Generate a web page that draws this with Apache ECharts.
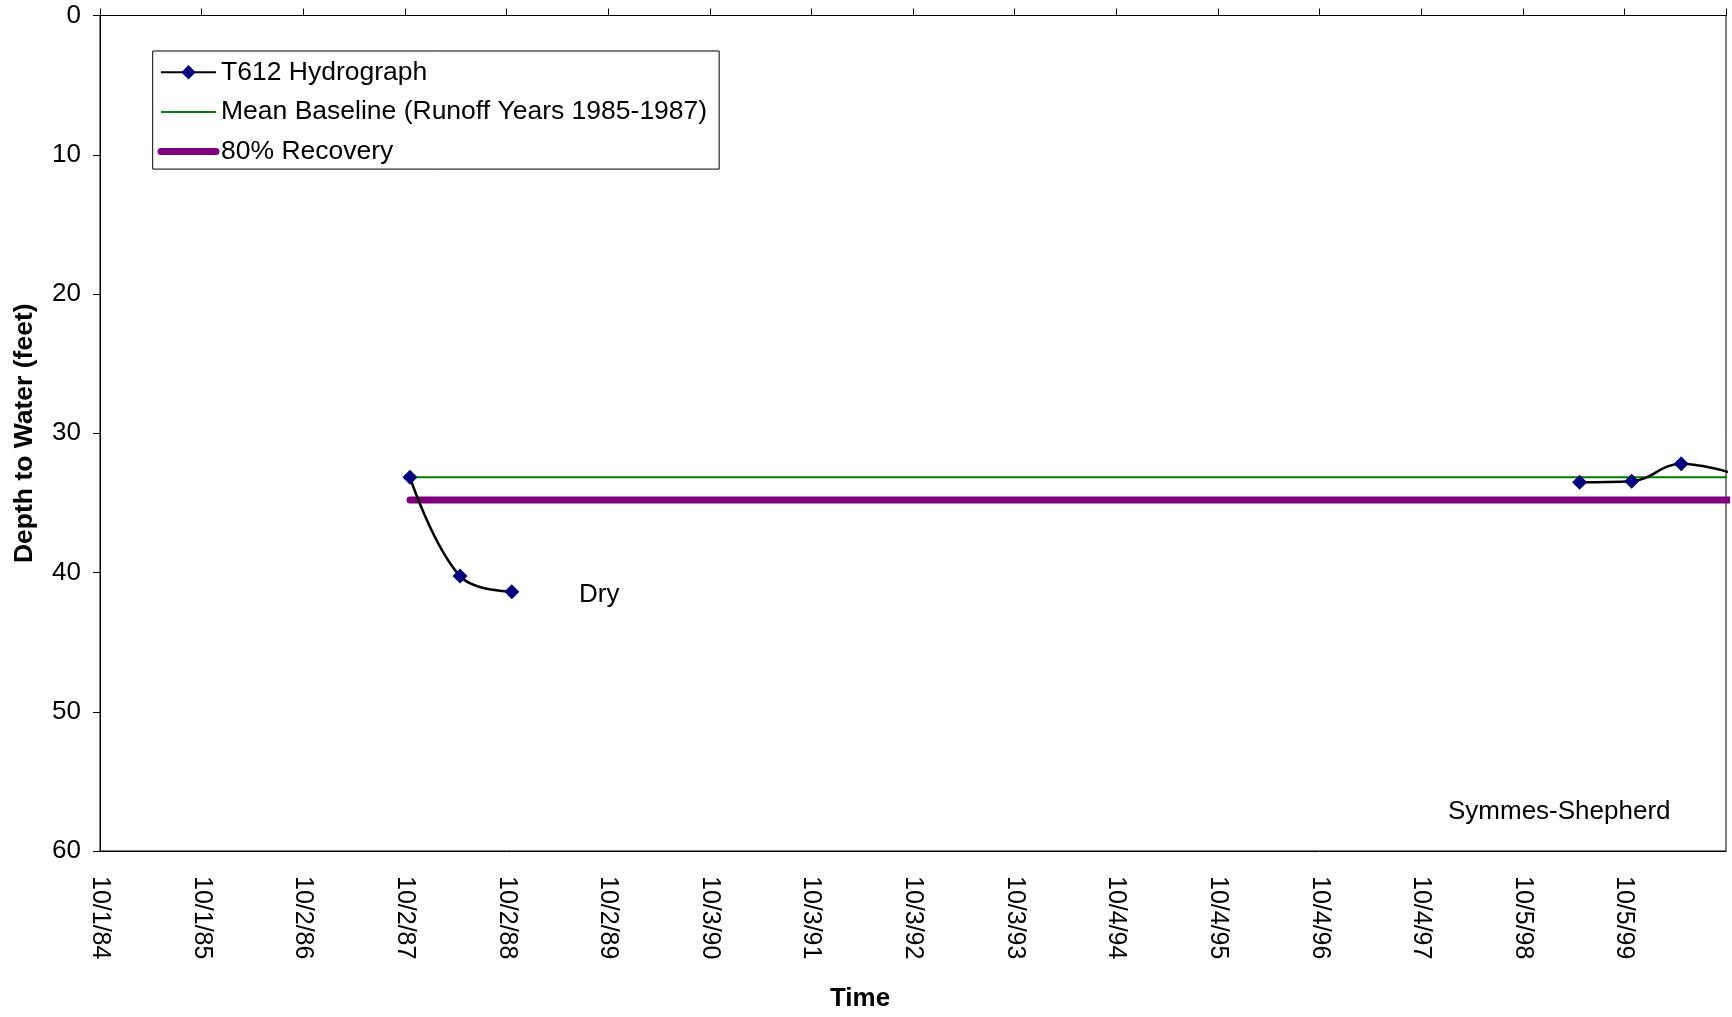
<!DOCTYPE html>
<html><head><meta charset="utf-8">
<script src="https://cdn.jsdelivr.net/npm/echarts@6/dist/echarts.min.js"></script>
<style>html,body{margin:0;padding:0;background:#fff}#c{width:1732px;height:1017px}</style>
</head><body><div id="c"></div>
<script>
// ---- data ----
const tickLabels = ['10/1/84','10/1/85','10/2/86','10/2/87','10/2/88','10/2/89','10/3/90','10/3/91','10/3/92','10/3/93','10/4/94','10/4/95','10/4/96','10/4/97','10/5/98','10/5/99',''];
const hydroDates  = ['1987-10-20','1988-04-17','1988-10-20','1989-04-20','1999-04-24','1999-10-28','2000-04-23','2000-10-20'];
const hydroValues = [33.16, 40.26, 41.38, null, 33.51, 33.44, 32.19, 32.85];
const baselineDates  = ['1987-10-20','2001-06-01'];
const baselineValues = [33.16, 33.16];
const recoveryDates  = ['1987-10-20','2001-06-01'];
const recoveryValues = [34.8, 34.8];
const seriesNames = ['T612 Hydrograph','Mean Baseline (Runoff Years 1985-1987)','80% Recovery'];
const annotations = ['Dry','Symmes-Shepherd'];

// ---- helpers ----
const ORIGIN = Date.parse('1984-10-01T00:00:00Z');
const YEAR = 365.25;
const dayOf = s => (Date.parse(s + 'T00:00:00Z') - ORIGIN) / 864e5;
const pairs = (d, v) => d.map((s, i) => [dayOf(s), v[i]]);
const FONT = '"Liberation Sans", Arial, Helvetica, sans-serif';

const chart = echarts.init(document.getElementById('c'), null, {renderer: 'canvas'});
chart.setOption({
  animation: false,
  backgroundColor: '#fff',
  textStyle: {fontFamily: FONT, color: '#000'},
  grid: {left: 100, right: 6, top: 15.5, bottom: 165, show: true, borderColor: '#000', borderWidth: 1, backgroundColor: 'transparent'},
  legend: {
    orient: 'vertical', left: 152.7, top: 51,
    padding: [7.7, 12, 4, 4.8],
    itemWidth: 55, itemHeight: 18, itemGap: 12.7,
    borderColor: '#000', borderWidth: 1, backgroundColor: '#fff',
    textStyle: {fontFamily: FONT, fontSize: 26.5, color: '#000', lineHeight: 26},
    selectedMode: false,
    data: [
      {name: seriesNames[0]},
      {name: seriesNames[1], itemStyle: {opacity: 0}, lineStyle: {width: 2, color: '#008000'}},
      {name: seriesNames[2], itemStyle: {opacity: 0}, lineStyle: {width: 7, color: '#800080', cap: 'round'}}
    ]
  },
  xAxis: [{
    type: 'value', position: 'bottom', min: 0, max: 16 * YEAR, interval: YEAR,
    axisLine: {show: true, onZero: false, lineStyle: {color: '#000', width: 1}},
    axisTick: {show: false},
    splitLine: {show: false},
    axisLabel: {
      rotate: -90, margin: 25, fontSize: 25, color: '#000', fontFamily: FONT,
      showMinLabel: true, showMaxLabel: true,
      formatter: v => tickLabels[Math.round(v / YEAR)] || ''
    },
    name: 'Time', nameLocation: 'middle', nameGap: 135,
    nameTextStyle: {fontFamily: FONT, fontSize: 26, fontWeight: 'bold', color: '#000', padding: [0, 106, 0, 0]}
  }, {
    type: 'value', position: 'top', min: 0, max: 16 * YEAR, interval: YEAR,
    axisLine: {show: true, onZero: false, lineStyle: {color: '#000', width: 1}},
    axisTick: {show: true, inside: false, length: 7, lineStyle: {color: '#000', width: 1}},
    splitLine: {show: false},
    axisLabel: {show: false}
  }],
  yAxis: {
    type: 'value', inverse: true, min: 0, max: 60, interval: 10,
    axisLine: {show: true, lineStyle: {color: '#000', width: 1}},
    axisTick: {show: true, inside: false, length: 7, lineStyle: {color: '#000', width: 1}},
    splitLine: {show: false},
    axisLabel: {margin: 19, fontSize: 26, color: '#000', fontFamily: FONT},
    name: 'Depth to Water (feet)', nameLocation: 'middle', nameGap: 62,
    nameTextStyle: {fontFamily: FONT, fontSize: 26.5, fontWeight: 'bold', color: '#000'}
  },
  series: [{
    name: seriesNames[0], type: 'line', xAxisIndex: 0,
    data: pairs(hydroDates, hydroValues),
    smooth: 0.4, connectNulls: false, clip: true,
    symbol: 'diamond', symbolSize: 15, showSymbol: true,
    lineStyle: {color: '#000', width: 2.5},
    itemStyle: {color: '#000080', borderWidth: 0},
    emphasis: {disabled: true}, z: 5
  }, {
    name: seriesNames[1], type: 'line', xAxisIndex: 0,
    data: pairs(baselineDates, baselineValues),
    symbol: 'none', clip: true,
    lineStyle: {color: '#008000', width: 2},
    itemStyle: {color: '#008000'},
    emphasis: {disabled: true}, z: 3
  }, {
    name: seriesNames[2], type: 'line', xAxisIndex: 0,
    data: pairs(recoveryDates, recoveryValues),
    symbol: 'none', clip: true,
    lineStyle: {color: '#800080', width: 7, cap: 'round'},
    itemStyle: {color: '#800080'},
    emphasis: {disabled: true}, z: 4
  }],
  graphic: [
    {type: 'text', left: 579, top: 582, style: {text: annotations[0], font: '26px ' + FONT, fill: '#000'}},
    {type: 'text', left: 1448, top: 799, style: {text: annotations[1], font: '26px ' + FONT, fill: '#000'}}
  ]
});
</script></body></html>
